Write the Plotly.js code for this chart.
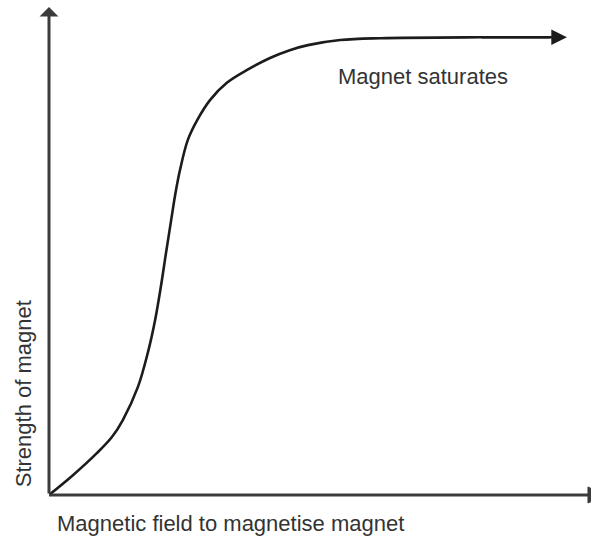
<!DOCTYPE html>
<html>
<head>
<meta charset="utf-8">
<script src="https://cdn.plot.ly/plotly-3.0.1.min.js"></script>
<style>html,body{margin:0;padding:0;background:#fff;}#chart{width:591px;height:538px;}</style>
</head>
<body>
<div id="chart"></div>
<script>
// Magnetic field (x) vs strength of magnet (y), arbitrary units 0-100
const fieldValues = [0, 4.6, 9.2, 12.1, 14.2, 17.1, 19.0, 20.4, 21.5, 22.5, 23.5, 24.3, 25.2, 26.7, 28.5, 31.0, 34.2, 38.1, 42.5, 46.3, 49.8, 56.0, 63.7, 82.9, 96.3];
const strengthValues = [0, 4.3, 9.1, 12.6, 16.3, 23.5, 30.9, 38.0, 45.2, 52.6, 59.8, 65.5, 70.7, 77.2, 81.5, 85.9, 89.6, 92.4, 95.0, 96.7, 97.8, 98.9, 99.3, 99.5, 99.5];
const arrowTip = {x: 99.6, y: 99.5};
const xLabel = "Magnetic field to magnetise magnet";
const yLabel = "Strength of magnet";
const noteText = "Magnet saturates";

const fontFam = "Liberation Sans, Arial, sans-serif";
const axisColor = "#3c3c3c";
const curveColor = "#1c1c1c";
const textColor = "#333333";

const trace = {
  x: fieldValues, y: strengthValues, type: "scatter", mode: "lines",
  line: {color: curveColor, width: 2.6, shape: "spline", smoothing: 1.0},
  hoverinfo: "skip", showlegend: false
};

const layout = {
  width: 591, height: 538,
  margin: {l: 49, r: 22, t: 35, b: 43, pad: 0},
  paper_bgcolor: "#ffffff", plot_bgcolor: "#ffffff",
  xaxis: {range: [0, 100], showgrid: false, zeroline: false, showticklabels: false, showline: false, ticks: "", fixedrange: true},
  yaxis: {range: [0, 100], showgrid: false, zeroline: false, showticklabels: false, showline: false, ticks: "", fixedrange: true},
  shapes: [
    // x axis line and arrowhead (arrowhead runs off the right edge)
    {type: "line", xref: "paper", yref: "paper", x0: 0, y0: 0, x1: 1.045, y1: 0, line: {color: axisColor, width: 3}},
    {type: "path", xref: "paper", yref: "paper", path: "M 1.0365 0.0174 L 1.069 0 L 1.0365 -0.0174 Z",
     fillcolor: axisColor, line: {color: axisColor, width: 1}}
  ],
  annotations: [
    // y axis arrow
    {xref: "paper", yref: "paper", x: 0, y: 1.0609, ax: 0, ay: 488, axref: "pixel", ayref: "pixel",
     text: "", showarrow: true, arrowhead: 1, arrowsize: 1.05, arrowwidth: 3, arrowcolor: axisColor},
    // curve end arrow
    {xref: "x", yref: "y", x: arrowTip.x, y: arrowTip.y, ax: fieldValues[fieldValues.length - 2], ay: strengthValues[strengthValues.length - 2],
     axref: "x", ayref: "y", text: "", showarrow: true, arrowhead: 2, arrowsize: 1.2, arrowwidth: 2.6, arrowcolor: curveColor},
    // labels
    {xref: "paper", yref: "paper", x: 0.551, y: 0.909, xanchor: "left", yanchor: "middle", showarrow: false,
     text: noteText, font: {family: fontFam, size: 22, color: textColor}},
    {xref: "paper", yref: "paper", x: 0.0115, y: -0.062, xanchor: "left", yanchor: "middle", showarrow: false,
     text: xLabel, font: {family: fontFam, size: 22, color: textColor}},
    {xref: "paper", yref: "paper", x: -0.05, y: 0.219, xanchor: "center", yanchor: "middle", showarrow: false, textangle: -90,
     text: yLabel, font: {family: fontFam, size: 22, color: textColor}}
  ]
};

Plotly.newPlot("chart", [trace], layout, {displayModeBar: false, staticPlot: true});
</script>
</body>
</html>
